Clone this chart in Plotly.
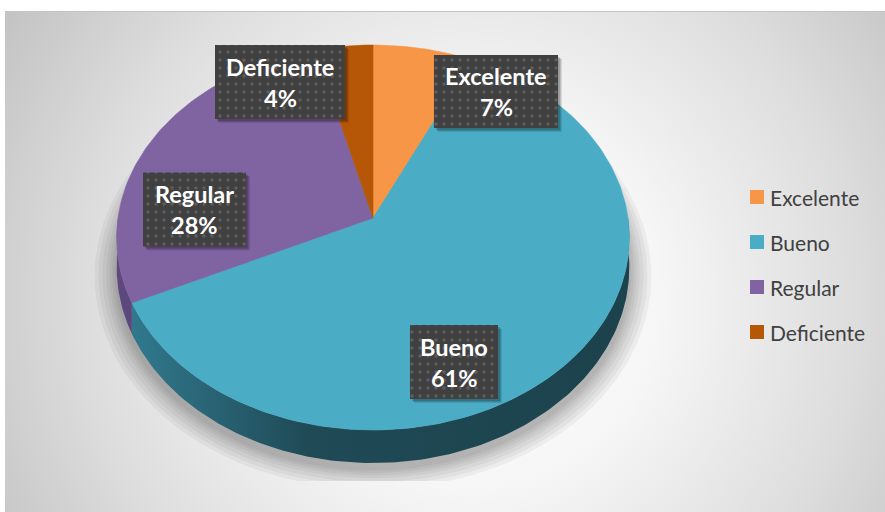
import math
import base64
import plotly.graph_objects as go

# ---- data -----------------------------------------------------------------
categories = ["Excelente", "Bueno", "Regular", "Deficiente"]
percentages = [7, 61, 28, 4]

# ---- styles ---------------------------------------------------------------
top_colors = ["#F79646", "#4BACC6", "#8064A2", "#B65708"]
side_fills = {
    "Bueno": dict(type="horizontal", start=130, stop=640,
                  colorscale=[[0, "#31798e"], [0.35, "#1f4a56"], [1, "#1c424c"]]),
    "Regular": dict(type="horizontal", start=115, stop=145,
                    colorscale=[[0, "#5f4a80"], [1, "#5a4578"]]),
}
LABEL_FONT = "Lato"
W, H = 885, 512

# label box centre / size, in pixel coordinates
label_boxes = {
    "Deficiente": (280, 82, 130, 74),
    "Excelente": (496, 91.5, 124, 73),
    "Regular": (194.5, 209.5, 103, 74),
    "Bueno": (454, 362, 88, 74),
}
legend_pos = dict(x_marker=757, x_text=768, y0=197, step=45)

# ---- 3-D pie geometry (simple perspective of a tilted disc) ----------------
CX, CY = 373, 218      # apex of the pie on screen
RX, RY = 255, 190.5    # rim radii
K = 0.1013             # perspective strength
DEPTH = 29.7           # thickness of the pie


def rim(theta_deg, drop=0.0, scale=1.0):
    t = math.radians(theta_deg)
    u, v = scale * math.sin(t), scale * math.cos(t)
    s = 1.0 / (1.0 + K * v)
    return CX + RX * u * s, CY - RY * v * s + drop * s


def arc(a, b, drop=0.0, scale=1.0, step=1.0):
    n = max(2, int(abs(b - a) / step) + 1)
    pts = [rim(a + (b - a) * i / (n - 1), drop, scale) for i in range(n)]
    return [p[0] for p in pts], [p[1] for p in pts]


# slice angles, clockwise from 12 o'clock
total = sum(percentages)
bounds = []
acc = 0.0
for p in percentages:
    start = acc / total * 360
    acc += p
    bounds.append((start, acc / total * 360))

fig = go.Figure()

# soft shadow beneath the pie, clipped by the floor line
for i, e in enumerate([0.085, 0.07, 0.055, 0.04, 0.028, 0.018, 0.008]):
    xs, ys = arc(0, 360, drop=DEPTH + 5, scale=1 + e, step=2)
    ys = [min(y, 481) for y in ys]
    fig.add_trace(go.Scatter(x=xs, y=ys, fill="toself", mode="lines",
                             line=dict(width=0), fillcolor="rgba(0,0,0,0.045)",
                             hoverinfo="skip", showlegend=False))

# side walls of the front half
for cat, (a, b) in zip(categories, bounds):
    lo, hi = max(a, 90), min(b, 270)
    if lo >= hi:
        continue
    tx, ty = arc(lo, hi)
    bx, by = arc(hi, lo, drop=DEPTH)
    fig.add_trace(go.Scatter(x=tx + bx, y=ty + by, fill="toself", mode="lines",
                             line=dict(width=0), fillgradient=side_fills[cat],
                             hoverinfo="skip", showlegend=False))

# top face slices
for cat, (a, b), col in zip(categories, bounds, top_colors):
    xs, ys = arc(a, b)
    fig.add_trace(go.Scatter(x=[CX] + xs + [CX], y=[CY] + ys + [CY],
                             fill="toself", mode="lines",
                             line=dict(width=0.6, color=col), fillcolor=col,
                             name=cat, hoverinfo="name", showlegend=False))

# data labels: dark dotted boxes with category and percentage
annotations = []
for cat, pct in zip(categories, percentages):
    cx, cy, w, h = label_boxes[cat]
    x0, x1, y0, y1 = cx - w / 2, cx + w / 2, cy - h / 2, cy + h / 2
    for off, alpha in [(4, 0.10), (3, 0.12), (2, 0.16)]:
        fig.add_trace(go.Scatter(
            x=[x0 + off, x1 + off, x1 + off, x0 + off, x0 + off],
            y=[y0 + off, y0 + off, y1 + off, y1 + off, y0 + off],
            fill="toself", mode="lines", line=dict(width=0),
            fillcolor=f"rgba(0,0,0,{alpha})", hoverinfo="skip", showlegend=False))
    fig.add_trace(go.Scatter(
        x=[x0, x1, x1, x0, x0], y=[y0, y0, y1, y1, y0],
        fill="toself", mode="lines", line=dict(width=0), fillcolor="#404040",
        fillpattern=dict(shape=".", size=8, solidity=0.14, fgcolor="#5e5e5e",
                         bgcolor="#404040", fillmode="replace"),
        hoverinfo="skip", showlegend=False))
    for txt, dy in [(cat, -15.5), (f"{pct}%", 15.5)]:
        annotations.append(dict(x=cx, y=cy + dy, xref="x", yref="y",
                                text=f"<b>{txt}</b>", showarrow=False,
                                xanchor="center", yanchor="middle",
                                font=dict(family=LABEL_FONT, size=23.5, color="white")))

# legend
for i, (cat, col) in enumerate(zip(categories, top_colors)):
    y = legend_pos["y0"] + i * legend_pos["step"]
    fig.add_trace(go.Scatter(x=[legend_pos["x_marker"]], y=[y], mode="markers",
                             marker=dict(symbol="square", size=14, color=col,
                                         line=dict(width=0)),
                             hoverinfo="skip", showlegend=False))
    annotations.append(dict(x=legend_pos["x_text"], y=y, xref="x", yref="y",
                            text=cat, showarrow=False, xanchor="left",
                            yanchor="middle",
                            font=dict(family=LABEL_FONT, size=21, color="#404040")))

# chart area background: radial grey gradient with a thin top edge
svg = f"""<svg xmlns='http://www.w3.org/2000/svg' width='{W}' height='{H}'>
<defs><radialGradient id='g' gradientUnits='userSpaceOnUse' cx='470' cy='300' r='540'>
<stop offset='0' stop-color='#ffffff'/><stop offset='0.35' stop-color='#f6f6f6'/>
<stop offset='0.7' stop-color='#dedede'/><stop offset='1' stop-color='#c4c4c4'/>
</radialGradient></defs>
<rect x='0' y='0' width='{W}' height='{H}' fill='#ffffff'/>
<rect x='5' y='11' width='{W - 5}' height='{H - 11}' fill='url(#g)'/>
<rect x='5' y='11' width='{W - 5}' height='1' fill='#c4c4c4'/>
</svg>"""
bg_uri = "data:image/svg+xml;base64," + base64.b64encode(svg.encode()).decode()

fig.update_layout(
    width=W, height=H, autosize=False,
    margin=dict(l=0, r=0, t=0, b=0, pad=0),
    paper_bgcolor="white", plot_bgcolor="rgba(0,0,0,0)",
    xaxis=dict(range=[0, W], visible=False, fixedrange=True),
    yaxis=dict(range=[H, 0], visible=False, fixedrange=True),
    images=[dict(source=bg_uri, xref="paper", yref="paper", x=0, y=1,
                 sizex=1, sizey=1, xanchor="left", yanchor="top",
                 sizing="stretch", layer="below")],
    annotations=annotations,
    showlegend=False,
)

fig.write_html("out.html")
